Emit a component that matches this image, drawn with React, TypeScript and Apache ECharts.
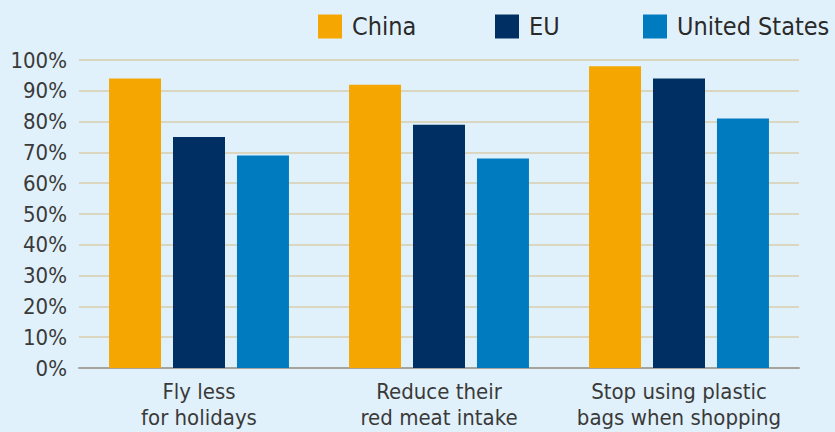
import React, { useEffect, useRef } from "react";
import * as echarts from "echarts";

const categories = ["Fly less\nfor holidays", "Reduce their\nred meat intake", "Stop using plastic\nbags when shopping"];
const seriesNames = ["China", "EU", "United States"];
const china = [94, 92, 98];
const eu = [75, 79, 94];
const us = [69, 68, 81];
const colors = ["#f5a600", "#003063", "#007bbf"];

const FONT = "'DejaVu Sans Condensed', 'Liberation Sans Narrow', 'DejaVu Sans', sans-serif";

export default function App() {
  const ref = useRef<HTMLDivElement>(null);
  useEffect(() => {
    if (!ref.current) return;
    const chart = echarts.init(ref.current, null, { renderer: "svg" });
    const values = [china, eu, us];
    const legendLefts = [313, 490, 638];
    chart.setOption({
      animation: false,
      backgroundColor: "#e1f1fb",
      textStyle: { fontFamily: FONT },
      legend: seriesNames.map((n, i) => ({
        data: [n],
        left: legendLefts[i],
        top: 9,
        itemWidth: 24,
        itemHeight: 24,
        icon: "rect",
        selectedMode: false,
        textStyle: { fontSize: 25, color: "#2a2a2a", fontFamily: FONT, padding: [0, 0, 0, 5] },
      })),
      grid: { left: 79, right: 36, top: 60, bottom: 64, containLabel: false },
      xAxis: {
        type: "category",
        data: categories,
        axisLine: { lineStyle: { color: "#a4a49c", width: 2 } },
        axisTick: { show: false },
        axisLabel: { fontSize: 22, color: "#3a3a3a", lineHeight: 26, margin: 10, fontFamily: FONT, interval: 0 },
      },
      yAxis: {
        type: "value",
        min: 0,
        max: 100,
        interval: 10,
        axisLine: { show: false },
        axisTick: { show: false },
        axisLabel: { formatter: "{value}%", fontSize: 22, color: "#3a3a3a", margin: 12, fontFamily: FONT },
        splitLine: { lineStyle: { color: "#dad6c0", width: 2 } },
      },
      series: seriesNames.map((n, i) => ({
        name: n,
        type: "bar",
        data: values[i],
        barWidth: 52,
        barGap: "23%",
        itemStyle: { color: colors[i] },
      })),
    });
    return () => chart.dispose();
  }, []);
  return <div ref={ref} style={{ position: "fixed", left: 0, top: 0, width: 835, height: 432 }} />;
}
